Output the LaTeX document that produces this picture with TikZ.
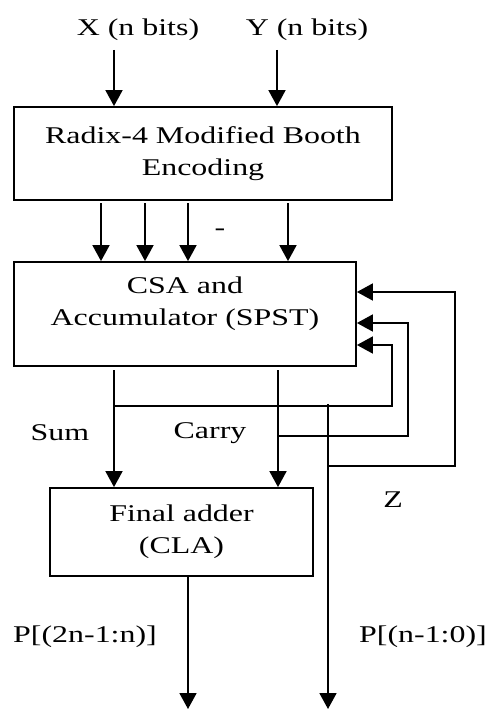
\documentclass[tikz,border=0pt]{standalone}
\usepackage{fontspec}
\setmainfont[FakeStretch=1.33]{Liberation Serif}
\usetikzlibrary{arrows.meta, positioning}

\begin{document}
\begin{tikzpicture}[x=1pt, y=-1pt, >={Triangle[length=16pt, width=17pt]}, line width=1.8pt,
    blk/.style={draw, rectangle, inner sep=0pt, align=center, font=\fontsize{24}{32}\selectfont},
    lbl/.style={inner sep=0pt, font=\fontsize{24}{32}\selectfont}]
\useasboundingbox (0,0) rectangle (489,709);

% 方框
\node[blk, minimum width=378pt, minimum height=93pt] (booth) at (203,153.5)
    {Radix-4 Modified Booth\\Encoding};
\node[blk, minimum width=342pt, minimum height=104pt, text depth=25pt] (csa) at (185,314)
    {CSA and\\Accumulator (SPST)};
\node[blk, minimum width=263pt, minimum height=88pt] (cla) at (181.5,532)
    {Final adder\\(CLA)};

% 输入
\node[lbl] (xin) at (138,30) {X (n bits)};
\node[lbl] (yin) at (307,30) {Y (n bits)};
\coordinate (xa) at (114,50);
\coordinate (ya) at (277,50);
\draw[->] (xa) -- (xa |- booth.north);
\draw[->] (ya) -- (ya |- booth.north);

% 部分积
\foreach \x in {101,145,188,288} {
    \coordinate (pp) at (\x,203);
    \draw[->] (pp) -- (pp |- csa.north);
}
\node[lbl] (dots) at (220,232) {-};

% Sum / Carry
\coordinate (s0) at (114,370);
\coordinate (c0) at (278,370);
\draw[->] (s0) -- (s0 |- cla.north);
\draw[->] (c0) -- (c0 |- cla.north);
\node[lbl] (sum) at (60,433) {Sum};
\node[lbl] (carry) at (210,433) {Carry};

% 反馈
\coordinate (fs) at (114,406);
\coordinate (fc) at (278,436);
\coordinate (fz) at (328,466);
\coordinate (fs1) at (392,345);
\coordinate (fc1) at (408,323);
\coordinate (fz1) at (455,292);
\draw[->] (fs) -| (fs1) -- (fs1 -| csa.east);
\draw[->] (fc) -| (fc1) -- (fc1 -| csa.east);
\draw[->] (fz) -| (fz1) -- (fz1 -| csa.east);
\node[lbl] (z) at (393,500) {Z};

% 输出
\coordinate (zt) at (328,404);
\coordinate (pl) at (328,709);
\coordinate (ph) at (188,709);
\draw[->] (zt) -- (pl);
\draw[->] (cla.south -| ph) -- (ph);
\node[lbl] (phi) at (85,637) {P[(2n-1:n)]};
\node[lbl] (plo) at (423,637) {P[(n-1:0)]};

\end{tikzpicture}
\end{document}
